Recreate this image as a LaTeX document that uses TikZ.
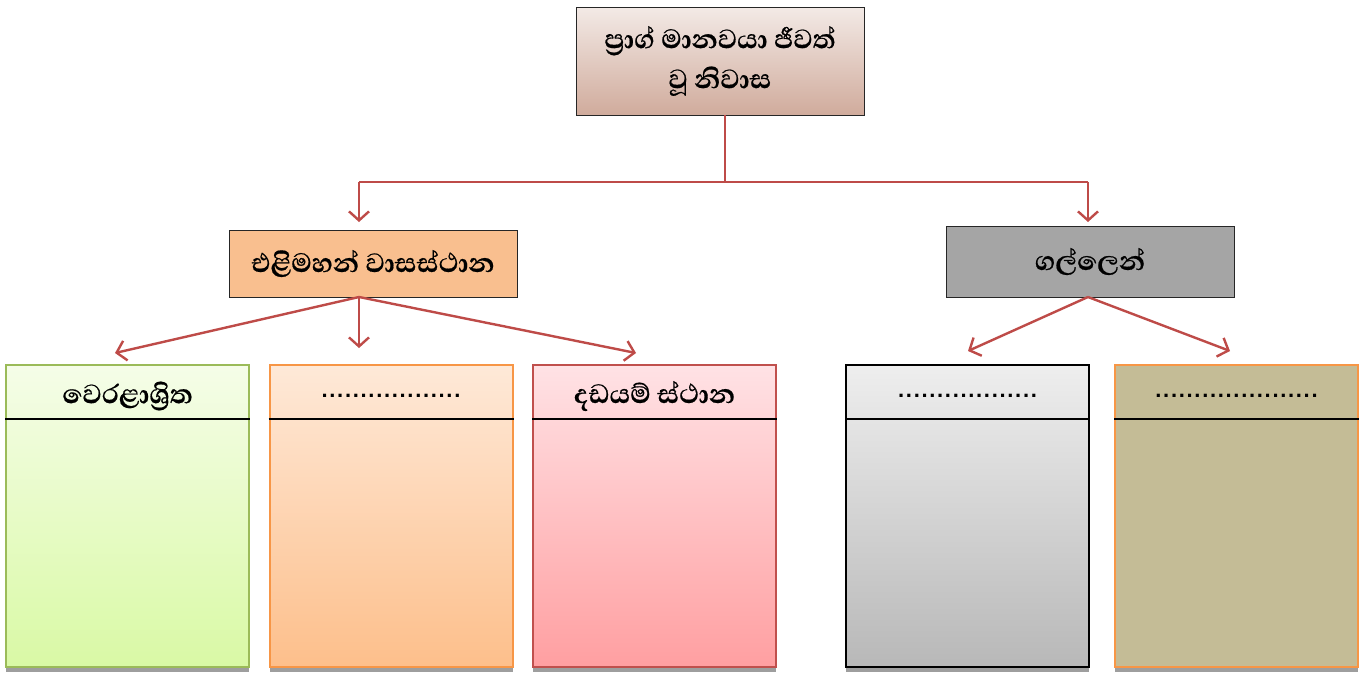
\documentclass[tikz,border=0pt]{standalone}
\usepackage{fontspec}
\usetikzlibrary{arrows.meta}
\newfontfamily\sinhalafont[Script=Sinhala, FakeBold=0.5]{Abhaya Libre}
\newfontfamily\dotfont{Liberation Sans}
\definecolor{conn}{HTML}{BE4B48}
\definecolor{grnb}{HTML}{9BBB59}
\definecolor{orgb}{HTML}{F79646}
\definecolor{redb}{HTML}{C0504D}
\newcommand\dotcell{\makebox[7.8pt]{\dotfont\bfseries\fontsize{22}{24}\selectfont .}}
\tikzset{
  conline/.style={draw=conn, line width=2.4pt},
  arr/.style={conline, -{Straight Barb[length=9pt,width=20pt,line width=2.4pt]}},
  midbox/.style={draw=black!85, line width=1pt, minimum width=288pt, font=\sinhalafont\bfseries\fontsize{34}{40}\selectfont, align=center, inner sep=0pt},
  colbox/.style={line width=2pt, minimum width=243pt, minimum height=302pt, inner sep=0pt},
  shadowbar/.style={fill=black!38, draw=none},
  head/.style={font=\sinhalafont\bfseries\fontsize{34}{40}\selectfont, inner sep=0pt}
}
\begin{document}
\begin{tikzpicture}[x=1pt,y=-1pt]
\useasboundingbox (0,0) rectangle (1370,673);
% top
\node[midbox, minimum height=108pt, top color={rgb,255:red,243;green,234;blue,230}, bottom color={rgb,255:red,208;green,171;blue,156}] (top) at (720,61) {ප්^^^^200dරාග් මානවයා ජීවත්\\වූ නිවාස};
\node[midbox, minimum height=67pt, fill={rgb,255:red,249;green,191;blue,143}] (lmid) at (373,263.5) {එළිමහන් වාසස්ථාන};
\node[midbox, minimum height=71pt, fill={rgb,255:red,165;green,165;blue,165}] (rmid) at (1090,261.5) {ගල්ලෙන්};
% shadows
\foreach \cx in {127.5,391,654.5,967.5,1236.5}{
  \fill[shadowbar] (\cx-121.5,369) rectangle (\cx+121.5,672);
}
% bottom boxes
\node[colbox, draw=grnb, top color={rgb,255:red,245;green,253;blue,232}, bottom color={rgb,255:red,217;green,249;blue,165}] (b1) at (127.5,516) {};
\node[colbox, draw=orgb, top color={rgb,255:red,254;green,233;blue,216}, bottom color={rgb,255:red,253;green,191;blue,139}] (b2) at (391,516) {};
\node[colbox, draw=redb, top color={rgb,255:red,255;green,226;blue,229}, bottom color={rgb,255:red,255;green,159;blue,161}] (b3) at (654.5,516) {};
\node[colbox, draw=black, top color={rgb,255:red,238;green,238;blue,238}, bottom color={rgb,255:red,184;green,184;blue,184}] (b4) at (967.5,516) {};
\node[colbox, draw=orgb, fill={rgb,255:red,196;green,188;blue,150}] (b5) at (1236.5,516) {};
% header lines
\foreach \b in {b1,b2,b3,b4,b5}{
  \draw[line width=1.5pt, black] ([yshift=-55pt]\b.north west) -- ([yshift=-55pt]\b.north east);
}
\node[head] (h1) at (127.5,396) {වෙරළාශ්^^^^200dරිත};
\node[head] (h2) at (391,396) {\foreach \i in {1,...,18}{\dotcell}};
\node[head] (h3) at (654.5,396) {දඩයම් ස්ථාන};
\node[head] (h4) at (967.5,396) {\foreach \i in {1,...,18}{\dotcell}};
\node[head] (h5) at (1236.5,396) {\foreach \i in {1,...,21}{\dotcell}};
% connectors
\coordinate (j) at (725,182);
\coordinate (jl) at (359,182);
\coordinate (jr) at (1088,182);
\coordinate (tl) at (359,222);
\coordinate (tr) at (1088,222);
\draw[conline] (725,115) -- (j);
\draw[conline] (jl) -- (jr);
\draw[arr] (jl) -- (tl);
\draw[arr] (jr) -- (tr);
\coordinate (ls) at (359,297);
\coordinate (a1) at (115,353);
\coordinate (a2) at (359,348);
\coordinate (a3) at (636,353);
\draw[arr] (ls) -- (a1);
\draw[arr] (ls) -- (a2);
\draw[arr] (ls) -- (a3);
\coordinate (rs) at (1088,297);
\coordinate (a4) at (968,351);
\coordinate (a5) at (1230,351);
\draw[arr] (rs) -- (a4);
\draw[arr] (rs) -- (a5);
\end{tikzpicture}
\end{document}
